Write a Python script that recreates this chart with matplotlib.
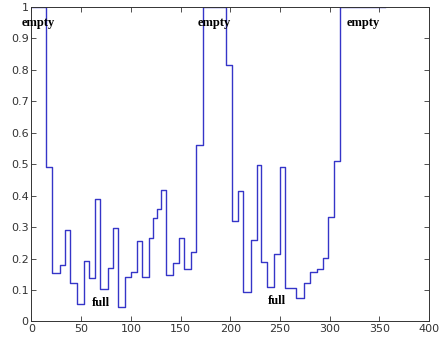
import matplotlib
matplotlib.use("Agg")
import matplotlib.pyplot as plt

# step start positions and level held from there on
step_x = [0, 15, 21, 29, 34, 39, 46, 53, 58, 64, 69, 76.5, 82.5, 87.5, 94.5,
          100, 106, 111, 118.5, 122.5, 126, 130.5, 135.5, 142, 148, 153.5,
          160.5, 166, 172.5, 195.5, 201.5, 208, 212.5, 220.5, 226.5, 231, 237,
          244.5, 250, 255.5, 266.5, 274, 280.5, 287, 293, 298, 304, 310, 356]
step_y = [1.0, 0.49, 0.155, 0.18, 0.29, 0.122, 0.056, 0.193, 0.139, 0.389,
          0.104, 0.169, 0.297, 0.045, 0.141, 0.157, 0.257, 0.143, 0.264, 0.33,
          0.357, 0.419, 0.147, 0.185, 0.264, 0.168, 0.222, 0.562, 1.0, 0.814,
          0.318, 0.415, 0.095, 0.26, 0.498, 0.19, 0.111, 0.214, 0.49, 0.106,
          0.076, 0.122, 0.158, 0.168, 0.202, 0.331, 0.511, 1.0, 1.0]

# annotations
notes = ["empty", "empty", "empty", "full", "full"]
note_x = [6.5, 184, 333.5, 69.5, 246.5]
note_y = [0.95, 0.95, 0.95, 0.06, 0.065]

x_ticks = [0, 50, 100, 150, 200, 250, 300, 350, 400]
y_ticks = [0, 0.1, 0.2, 0.3, 0.4, 0.5, 0.6, 0.7, 0.8, 0.9, 1]
y_labels = ["0", "0.1", "0.2", "0.3", "0.4", "0.5", "0.6", "0.7", "0.8", "0.9", "1"]

fig = plt.figure(figsize=(4.41, 3.41), dpi=100)
ax = fig.add_axes([0.0714, 0.0572, 0.9014, 0.9223])

ax.step(step_x, step_y, where="post", color="#3535c8", linewidth=1.0)

for txt, x, y in zip(notes, note_x, note_y):
    ax.text(x, y, txt, ha="center", va="center", fontsize=9,
            family="Liberation Serif", fontweight="bold", clip_on=False)

ax.set_xlim(0, 400)
ax.set_ylim(0, 1)
ax.set_xticks(x_ticks)
ax.set_xticklabels([str(v) for v in x_ticks])
ax.set_yticks(y_ticks)
ax.set_yticklabels(y_labels)
ax.tick_params(direction="in", length=3.5, width=0.6, top=True, right=True,
               labelsize=8, color="#333333", labelcolor="#333333", pad=2)
for sp in ax.spines.values():
    sp.set_color("#333333")
    sp.set_linewidth(0.7)

fig.savefig("out.png", dpi=100)
